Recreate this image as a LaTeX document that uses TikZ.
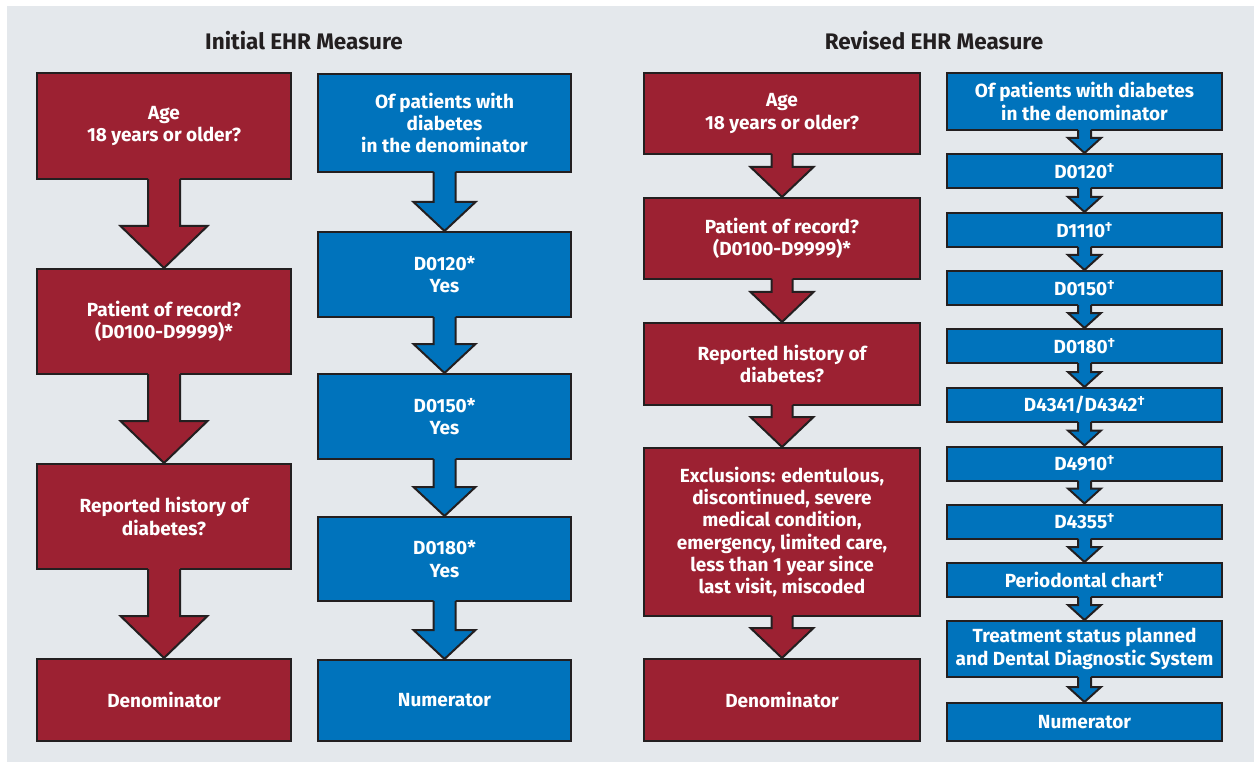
\documentclass[tikz,border=0pt]{standalone}
\usepackage{fontspec}
\setmainfont{Fira Sans}
\usetikzlibrary{calc}
\definecolor{bg}{HTML}{E4E8EC}
\definecolor{ehrred}{HTML}{9C2132}
\definecolor{ehrblue}{HTML}{0073BC}
\definecolor{outl}{HTML}{231F20}
\tikzset{
  box/.style={draw=outl, line width=2pt, inner sep=0pt, align=center, text=white,
    font=\bfseries\fontsize{19}{22.3}\selectfont},
  redbox/.style={box, fill=ehrred},
  bluebox/.style={box, fill=ehrblue},
  ehrtitle/.style={font=\bfseries\fontsize{22.5}{26}\selectfont, text=outl},
  arrowline/.style={draw=outl, line width=2pt, line join=miter},
}
% #1 from, #2 to, #3 shaft half width, #4 head half width, #5 head height, #6 fill colour
\newcommand\flowarrow[6]{%
  \fill[#6] ($(#1.south)+(-#3,2.4)$) -- ($(#2.north)+(-#3,#5)$) -- ($(#2.north)+(-#4,#5)$)
    -- (#2.north) -- ($(#2.north)+(#4,#5)$) -- ($(#2.north)+(#3,#5)$) -- ($(#1.south)+(#3,2.4)$) -- cycle;
  \draw[arrowline] ($(#1.south)+(-#3,1)$) -- ($(#2.north)+(-#3,#5)$) -- ($(#2.north)+(-#4,#5)$)
    -- (#2.north) -- ($(#2.north)+(#4,#5)$) -- ($(#2.north)+(#3,#5)$) -- ($(#1.south)+(#3,1)$);
}
\newcommand\dg{\textsuperscript{\textdagger}}
\begin{document}
\begin{tikzpicture}[x=1pt,y=1pt]
\useasboundingbox (0,0) rectangle (1259,-762);
\fill[bg] (7,-6) rectangle (1254,-762);

\node[ehrtitle] (t1) at (304,-41) {Initial EHR Measure};
\node[ehrtitle] (t2) at (934,-41) {Revised EHR Measure};

% Initial, red column
\tikzset{lr/.style={redbox, minimum width=254pt}}
\node[lr, minimum height=106pt] (r1) at (164,-126) {Age\\18 years or older?};
\node[lr, minimum height=105pt] (r2) at (164,-321.5) {Patient of record?\\(D0100-D9999)*};
\node[lr, minimum height=105pt] (r3) at (164,-516.5) {Reported history of\\diabetes?};
\node[lr, minimum height=82pt] (r4) at (164,-700) {Denominator};
\flowarrow{r1}{r2}{16}{43.5}{42}{ehrred}
\flowarrow{r2}{r3}{16}{43.5}{42}{ehrred}
\flowarrow{r3}{r4}{16}{43.5}{42}{ehrred}

% Initial, blue column
\tikzset{lb/.style={bluebox, minimum width=253pt}}
\node[lb, minimum height=98pt] (b1) at (444.5,-123) {Of patients with\\diabetes\\in the denominator};
\node[lb, minimum height=85pt] (b2) at (444.5,-274.5) {D0120*\\Yes};
\node[lb, minimum height=85pt] (b3) at (444.5,-416.5) {D0150*\\Yes};
\node[lb, minimum height=84pt] (b4) at (444.5,-559) {D0180*\\Yes};
\node[lb, minimum height=81pt] (b5) at (444.5,-700.5) {Numerator};
\flowarrow{b1}{b2}{11}{31}{29}{ehrblue}
\flowarrow{b2}{b3}{11}{31}{29}{ehrblue}
\flowarrow{b3}{b4}{11}{31}{29}{ehrblue}
\flowarrow{b4}{b5}{11}{31}{29}{ehrblue}

% Revised, red column
\tikzset{rr/.style={redbox, minimum width=276pt}}
\node[rr, minimum height=81pt] (s1) at (782,-113.5) {Age\\18 years or older?};
\node[rr, minimum height=81pt] (s2) at (782,-238.5) {Patient of record?\\(D0100-D9999)*};
\node[rr, minimum height=82pt] (s3) at (782,-364) {Reported history of\\diabetes?};
\node[rr, minimum height=168pt] (s4) at (782,-532) {Exclusions: edentulous,\\discontinued, severe\\medical condition,\\emergency, limited care,\\less than 1 year since\\last visit, miscoded};
\node[rr, minimum height=82pt] (s5) at (782,-700) {Denominator};
\flowarrow{s1}{s2}{10.5}{31.5}{30}{ehrred}
\flowarrow{s2}{s3}{10.5}{31.5}{30}{ehrred}
\flowarrow{s3}{s4}{10.5}{31.5}{30}{ehrred}
\flowarrow{s4}{s5}{10.5}{31.5}{30}{ehrred}

% Revised, blue column
\tikzset{rb/.style={bluebox, minimum width=275pt}, sb/.style={rb, minimum height=34pt}}
\node[rb, minimum height=57pt] (c1) at (1084.5,-101.5) {Of patients with diabetes\\in the denominator};
\node[sb] (c2) at (1084.5,-171) {D0120\dg};
\node[sb] (c3) at (1084.5,-230) {D1110\dg};
\node[sb] (c4) at (1084.5,-288) {D0150\dg};
\node[sb] (c5) at (1084.5,-346) {D0180\dg};
\node[sb] (c6) at (1084.5,-405) {D4341/D4342\dg};
\node[sb] (c7) at (1084.5,-463.5) {D4910\dg};
\node[sb] (c8) at (1084.5,-521.5) {D4355\dg};
\node[sb] (c9) at (1084.5,-580) {Periodontal chart\dg};
\node[rb, minimum height=56pt] (c10) at (1084.5,-649) {Treatment status planned\\and Dental Diagnostic System};
\node[rb, minimum height=38pt] (c11) at (1084.5,-722) {Numerator};
\foreach \a/\b in {c1/c2,c2/c3,c3/c4,c4/c5,c5/c6,c6/c7,c7/c8,c8/c9,c9/c10,c10/c11}{
  \flowarrow{\a}{\b}{6.5}{16.5}{15}{ehrblue}
}
\end{tikzpicture}
\end{document}
